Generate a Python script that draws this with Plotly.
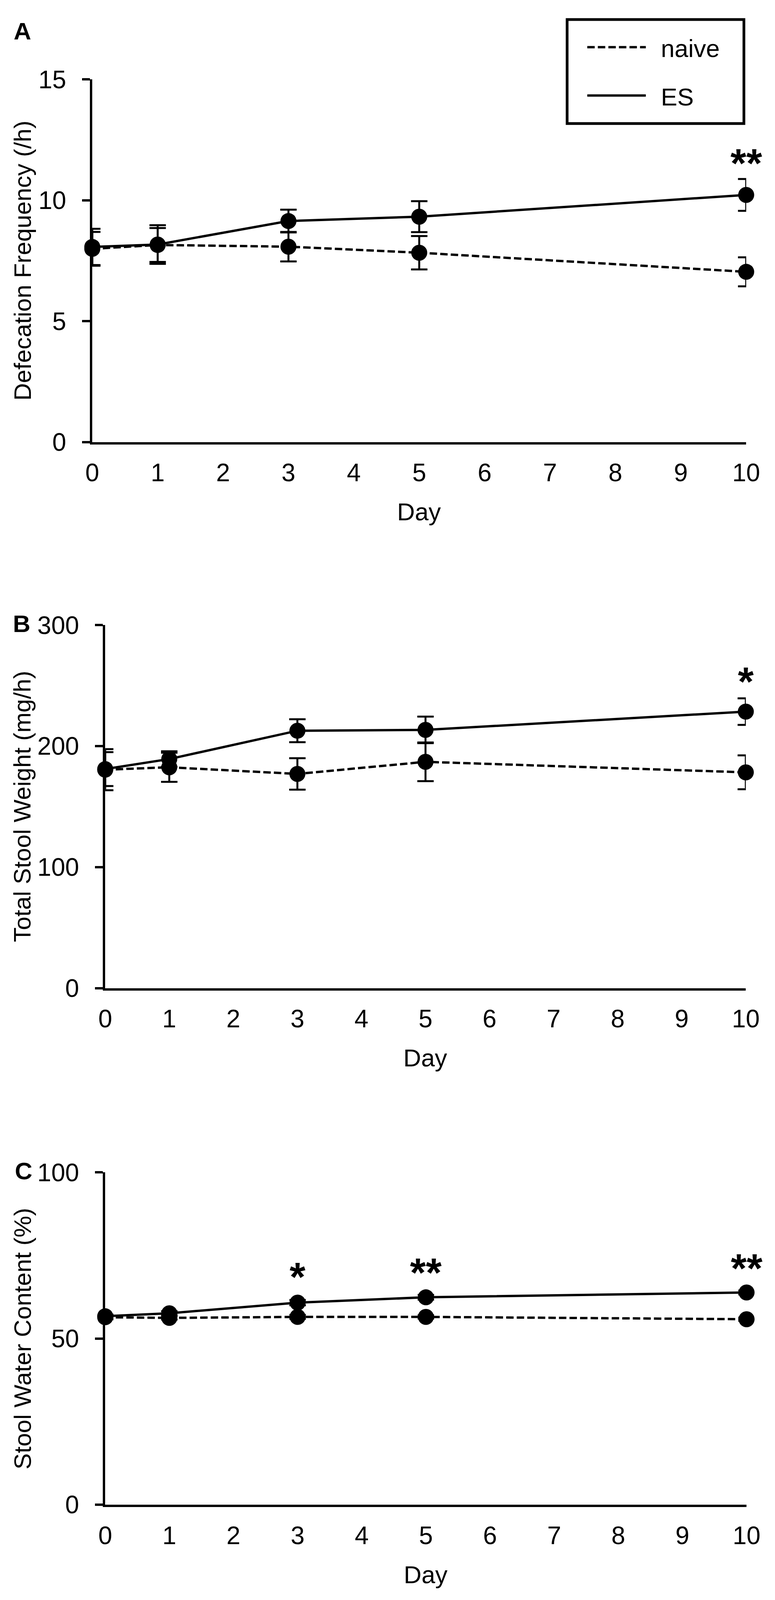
import plotly.graph_objects as go

# days sampled
days = [0, 1, 3, 5, 10]

# A: defecation frequency (/h), mean and SEM
freq_naive = [7.99, 8.15, 8.08, 7.83, 7.04]
freq_naive_err = [0.70, 0.70, 0.61, 0.69, 0.60]
freq_es = [8.07, 8.17, 9.14, 9.32, 10.22]
freq_es_err = [0.75, 0.80, 0.47, 0.64, 0.66]

# B: total stool weight (mg/h)
weight_naive = [180.5, 182.5, 177.0, 187.0, 178.3]
weight_naive_err = [17.0, 12.0, 13.0, 16.0, 14.0]
weight_es = [181.0, 189.3, 212.7, 213.4, 228.5]
weight_es_err = [14.0, 6.4, 9.5, 11.0, 11.0]

# C: stool water content (%)
water_naive = [56.4, 56.2, 56.5, 56.5, 55.8]
water_naive_err = [0.6, 0.5, 0.6, 0.5, 0.5]
water_es = [56.7, 57.6, 60.8, 62.4, 63.85]
water_es_err = [0.5, 0.6, 0.8, 0.7, 0.6]

# significance marks (day, height, text)
freq_sig_days, freq_sig_y, freq_sig_text = [10], [11.9], ["**"]
weight_sig_days, weight_sig_y, weight_sig_text = [10], [260.7], ["*"]
water_sig_days, water_sig_y, water_sig_text = [3, 5, 10], [71.2, 72.5, 73.8], ["*", "**", "**"]

W, H = 1983, 4102
FONT = "Liberation Sans, Arial, sans-serif"


def px(x):
    return x / W


def py(y):
    return 1 - y / H


panels = [
    dict(letter="A", title="Defecation Frequency (/h)", naive=freq_naive, naive_err=freq_naive_err,
         es=freq_es, es_err=freq_es_err, yrange=[0, 15], dtick=5,
         xdom=[216, 1936], ydom=[1107, 162], lpos=(32, 36),
         sig=(freq_sig_days, freq_sig_y, freq_sig_text)),
    dict(letter="B", title="Total Stool Weight (mg/h)", naive=weight_naive, naive_err=weight_naive_err,
         es=weight_es, es_err=weight_es_err, yrange=[0, 300], dtick=100,
         xdom=[250, 1935], ydom=[2530, 1584], lpos=(30, 1580),
         sig=(weight_sig_days, weight_sig_y, weight_sig_text)),
    dict(letter="C", title="Stool Water Content (%)", naive=water_naive, naive_err=water_naive_err,
         es=water_es, es_err=water_es_err, yrange=[0, 100], dtick=50,
         xdom=[250, 1937], ydom=[3876, 3010], lpos=(35, 3006),
         sig=(water_sig_days, water_sig_y, water_sig_text)),
]

fig = go.Figure()
annotations = []
layout_axes = {}

for i, p in enumerate(panels, start=1):
    xa = "x" if i == 1 else f"x{i}"
    ya = "y" if i == 1 else f"y{i}"
    for vals, errs, dash in [(p["naive"], p["naive_err"], "19px,8px"), (p["es"], p["es_err"], "solid")]:
        fig.add_trace(
            go.Scatter(
                x=days,
                y=vals,
                mode="lines+markers",
                line=dict(color="black", width=6, dash=dash),
                marker=dict(color="black", size=41, symbol="circle"),
                error_y=dict(type="data", array=errs, visible=True, color="black", thickness=5, width=21),
                cliponaxis=False,
                xaxis=xa,
                yaxis=ya,
                showlegend=False,
            )
        )

    axis_style = dict(
        showline=True, linecolor="black", linewidth=6, showgrid=False, zeroline=False,
        tickfont=dict(family=FONT, size=64, color="black"),
    )
    layout_axes["xaxis" if i == 1 else f"xaxis{i}"] = dict(
        axis_style, domain=[px(p["xdom"][0]), px(p["xdom"][1])], range=[0, 10],
        tickmode="array", tickvals=list(range(11)), ticks="", ticklabelstandoff=18,
        anchor=ya,
    )
    layout_axes["yaxis" if i == 1 else f"yaxis{i}"] = dict(
        axis_style, domain=[py(p["ydom"][0]), py(p["ydom"][1])], range=p["yrange"],
        dtick=p["dtick"], ticks="outside", ticklen=20, tickwidth=6, tickcolor="black",
        ticklabelstandoff=28, anchor=xa,
    )

    # significance asterisks
    for d, yv, t in zip(*p["sig"]):
        annotations.append(dict(x=d, y=yv, xref=xa, yref=ya, text=t, showarrow=False,
                                font=dict(family=FONT, size=104, color="black", weight="bold"),
                                xanchor="center", yanchor="middle", yshift=-23))

    # axis titles and panel letters
    xmid = (p["xdom"][0] + p["xdom"][1]) / 2
    annotations.append(dict(x=px(xmid), y=py(p["ydom"][0] + 182), xref="paper", yref="paper",
                            text="Day", showarrow=False, xanchor="center", yanchor="middle",
                            font=dict(family=FONT, size=63, color="black")))
    ymid = (p["ydom"][0] + p["ydom"][1]) / 2
    annotations.append(dict(x=px(32), y=py(ymid), xref="paper", yref="paper", text=p["title"],
                            textangle=-90, showarrow=False, xanchor="center", yanchor="middle",
                            font=dict(family=FONT, size=62, color="black")))
    annotations.append(dict(x=px(p["lpos"][0]), y=py(p["lpos"][1]), xref="paper", yref="paper",
                            text=p["letter"], showarrow=False, xanchor="center", yanchor="middle",
                            font=dict(family=FONT, size=62, color="black", weight="bold")))

# legend drawn as a boxed key
shapes = [
    dict(type="rect", xref="paper", yref="paper", x0=px(1465), x1=px(1930), y0=py(6), y1=py(277),
         line=dict(color="black", width=7), fillcolor="white"),
    dict(type="line", xref="paper", yref="paper", x0=px(1518), x1=px(1672), y0=py(78), y1=py(78),
         line=dict(color="black", width=6, dash="19px,8px")),
    dict(type="line", xref="paper", yref="paper", x0=px(1518), x1=px(1672), y0=py(204), y1=py(204),
         line=dict(color="black", width=6)),
]
annotations += [
    dict(x=px(1710), y=py(81), xref="paper", yref="paper", text="naive", showarrow=False,
         xanchor="left", yanchor="middle", font=dict(family=FONT, size=63, color="black")),
    dict(x=px(1710), y=py(208), xref="paper", yref="paper", text="ES", showarrow=False,
         xanchor="left", yanchor="middle", font=dict(family=FONT, size=63, color="black")),
]

fig.update_layout(
    width=W,
    height=H,
    margin=dict(l=0, r=0, t=0, b=0),
    paper_bgcolor="white",
    plot_bgcolor="white",
    showlegend=False,
    annotations=annotations,
    shapes=shapes,
    **layout_axes,
)

fig.write_html("out.html")
